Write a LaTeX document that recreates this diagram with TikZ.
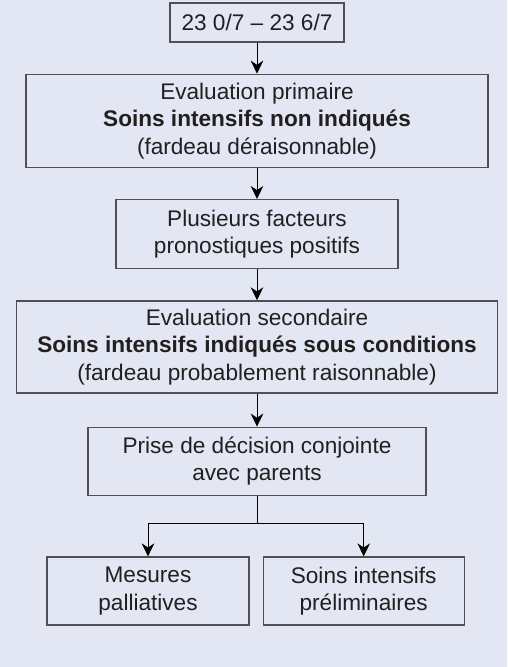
\documentclass[tikz,border=0pt]{standalone}
\usepackage{fontspec}
\setmainfont{Liberation Sans}
\usetikzlibrary{arrows.meta,positioning}
\definecolor{panelbg}{RGB}{227,231,243}
\definecolor{boxline}{RGB}{80,80,84}
\definecolor{textgrey}{RGB}{35,31,32}

\begin{document}
\begin{tikzpicture}[x = 0.5pt, y = -0.5pt,
						stepbox/.style = {rectangle, draw = boxline, line width = 0.65pt, fill = panelbg, inner sep = 0pt, align = center, text = textgrey, font = \fontsize{11.3}{13.7}\selectfont},
						pathstyle/.style = {-{Stealth[length = 6.5pt, width = 6.3pt]}, line width = 0.5pt, black}]
		% Background
		\fill [panelbg] (0,0) rectangle (507,667);
		\useasboundingbox (0,0) rectangle (507,667);
		% Main column
		\node (range) at (257,22.5) [stepbox, minimum width = 87pt, minimum height = 19.5pt] {23 0/7 -- 23 6/7};
		\node (prim) [stepbox, below = 15.5pt of range, minimum width = 231pt, minimum height = 46.5pt] {Evaluation primaire \\ \textbf{Soins intensifs non indiqués} \\ (fardeau déraisonnable)};
		\node (facteurs) [stepbox, below = 15.5pt of prim, minimum width = 141pt, minimum height = 34.5pt] {Plusieurs facteurs \\ pronostiques positifs};
		\node (sec) [stepbox, below = 15.5pt of facteurs, minimum width = 240.5pt, minimum height = 46pt] {Evaluation secondaire \\ \textbf{Soins intensifs indiqués sous conditions} \\ (fardeau probablement raisonnable)};
		\node (decision) [stepbox, below = 16.5pt of sec, minimum width = 169pt, minimum height = 34pt] {Prise de décision conjointe \\ avec parents};
		% Two outcomes
		\node (palli) at (148,591) [stepbox, minimum width = 101pt, minimum height = 34pt] {Mesures \\ palliatives};
		\node (prelim) at (363.7,591) [stepbox, minimum width = 100.5pt, minimum height = 34pt] {Soins intensifs \\ préliminaires};
		\coordinate (fork) at (257,523);
		% Paths
		\draw [pathstyle] (range) -- (prim);
		\draw [pathstyle] (prim) -- (facteurs);
		\draw [pathstyle] (facteurs) -- (sec);
		\draw [pathstyle] (sec) -- (decision);
		\draw [line width = 0.5pt] (decision) -- (fork);
		\draw [pathstyle] (fork) -| (palli);
		\draw [pathstyle] (fork) -| (prelim);
	\end{tikzpicture}
\end{document}
